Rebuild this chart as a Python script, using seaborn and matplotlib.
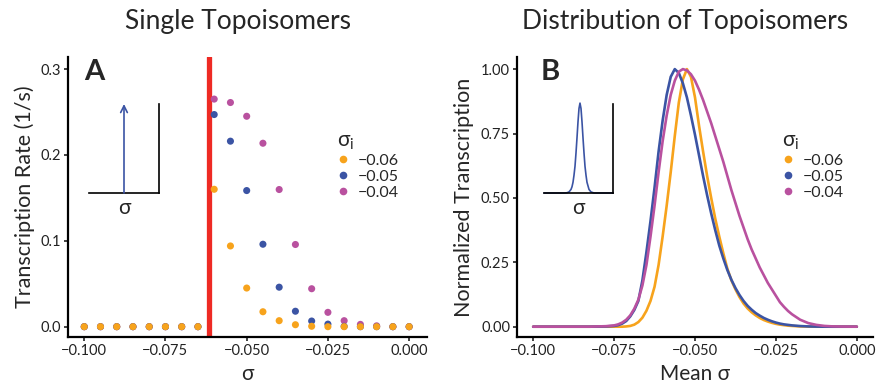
import numpy as np
import pandas as pd
import matplotlib
matplotlib.use("Agg")
import matplotlib.pyplot as plt
import seaborn as sns
from matplotlib.lines import Line2D

# --------------------------------------------------------------
# data
# --------------------------------------------------------------

sigma_levels = ["−0.06", "−0.05", "−0.04"]
colors = {"−0.06": "#F7A31C", "−0.05": "#3B54A4", "−0.04": "#B9519F"}

# panel A: single topoisomers
sigma_pts = [-0.1, -0.095, -0.09, -0.085, -0.08, -0.075, -0.07, -0.065,
             -0.06, -0.055, -0.05, -0.045, -0.04, -0.035, -0.03, -0.025,
             -0.02, -0.015, -0.01, -0.005, 0.0]
rate_06 = [0, 0, 0, 0, 0, 0, 0, 0,
           0.160, 0.094, 0.045, 0.0174, 0.007, 0.0023, 0.0005, 0,
           0, 0, 0, 0, 0]
rate_05 = [0, 0, 0, 0, 0, 0, 0, 0,
           0.247, 0.216, 0.1585, 0.096, 0.046, 0.018, 0.0066, 0.003,
           0.0004, 0, 0, 0, 0]
rate_04 = [0, 0, 0, 0, 0, 0, 0, 0,
           0.265, 0.261, 0.245, 0.2136, 0.1597, 0.0957, 0.0442, 0.0167,
           0.007, 0.0027, 0.001, 0, 0]
threshold = -0.0615

# panel B: distribution of topoisomers
mean_sigma = [-0.1, -0.0975, -0.095, -0.0925, -0.09, -0.0875, -0.085, -0.0825,
              -0.08, -0.0775, -0.075, -0.07375, -0.0725, -0.07125, -0.07,
              -0.06875, -0.0675, -0.06625, -0.065, -0.06375, -0.0625, -0.06125,
              -0.06, -0.05875, -0.0575, -0.05625, -0.055, -0.05375, -0.0525,
              -0.05125, -0.05, -0.04875, -0.0475, -0.04625, -0.045, -0.04375,
              -0.0425, -0.04125, -0.04, -0.03875, -0.0375, -0.03625, -0.035,
              -0.03375, -0.0325, -0.03125, -0.03, -0.02875, -0.0275, -0.02625,
              -0.025, -0.02375, -0.0225, -0.02125, -0.02, -0.0175, -0.015,
              -0.0125, -0.01, -0.0075, -0.005, -0.0025, 0.0]
norm_06 = [0, 0, 0, 0, 0, 0, 0, 0, 0, 0,
           0, 0, 0, 0.001, 0.003, 0.008, 0.018, 0.035, 0.062, 0.10,
           0.155, 0.24, 0.35, 0.47, 0.60, 0.74, 0.87, 0.96, 1.0, 0.97,
           0.89, 0.78, 0.68, 0.585, 0.50, 0.42, 0.35, 0.285, 0.225, 0.18,
           0.145, 0.115, 0.09, 0.071, 0.056, 0.044, 0.034, 0.026, 0.02, 0.015,
           0.011, 0.008, 0.006, 0.004, 0.003, 0.001, 0.0004, 0, 0, 0,
           0, 0, 0]
norm_05 = [0, 0, 0, 0, 0, 0, 0, 0, 0.0005, 0.001,
           0.003, 0.006, 0.012, 0.022, 0.04, 0.065, 0.10, 0.18, 0.29, 0.41,
           0.54, 0.68, 0.80, 0.90, 0.97, 1.0, 0.985, 0.945, 0.89, 0.82,
           0.745, 0.665, 0.585, 0.51, 0.44, 0.375, 0.315, 0.265, 0.22, 0.182,
           0.15, 0.123, 0.10, 0.081, 0.066, 0.053, 0.043, 0.034, 0.027, 0.021,
           0.016, 0.012, 0.009, 0.007, 0.005, 0.0025, 0.001, 0.0004, 0.0001, 0,
           0, 0, 0]
norm_04 = [0, 0, 0, 0, 0, 0, 0, 0, 0.001, 0.002,
           0.005, 0.009, 0.016, 0.027, 0.044, 0.07, 0.105, 0.16, 0.24, 0.35,
           0.47, 0.60, 0.72, 0.82, 0.90, 0.955, 0.99, 1.0, 0.995, 0.98,
           0.955, 0.92, 0.88, 0.835, 0.79, 0.74, 0.69, 0.64, 0.585, 0.53,
           0.48, 0.43, 0.385, 0.34, 0.30, 0.265, 0.23, 0.20, 0.17, 0.145,
           0.12, 0.095, 0.077, 0.061, 0.048, 0.027, 0.014, 0.007, 0.003, 0.0012,
           0.0005, 0.0002, 0]

# inset sketch in panel B (single narrow peak)
inset_x = [0, 20, 23, 25, 27, 28, 29, 30, 31, 32, 33, 34, 35,
           36, 37, 38, 39, 40, 41, 42, 43, 45, 47, 50, 69]
inset_y = [0, 0, 0.003, 0.012, 0.04, 0.07, 0.12, 0.2, 0.3, 0.45, 0.62, 0.8, 0.95,
           1.01, 0.95, 0.8, 0.62, 0.45, 0.3, 0.2, 0.12, 0.04, 0.012, 0, 0]

x_ticks = [-0.1, -0.075, -0.05, -0.025, 0.0]
x_labels = ["−0.100", "−0.075", "−0.050", "−0.025", "0.000"]
yA_ticks = [0.0, 0.1, 0.2, 0.3]
yA_labels = ["0.0", "0.1", "0.2", "0.3"]
yB_ticks = [0.0, 0.25, 0.5, 0.75, 1.0]
yB_labels = ["0.00", "0.25", "0.50", "0.75", "1.00"]

# --------------------------------------------------------------
# long tables for seaborn
# --------------------------------------------------------------

# orange last so it lands on top
dfA = pd.concat([
    pd.DataFrame({"sigma": sigma_pts, "rate": rate_04, "si": "−0.04"}),
    pd.DataFrame({"sigma": sigma_pts, "rate": rate_05, "si": "−0.05"}),
    pd.DataFrame({"sigma": sigma_pts, "rate": rate_06, "si": "−0.06"}),
], ignore_index=True)

dfB = pd.concat([
    pd.DataFrame({"sigma": mean_sigma, "norm": norm_06, "si": "−0.06"}),
    pd.DataFrame({"sigma": mean_sigma, "norm": norm_05, "si": "−0.05"}),
    pd.DataFrame({"sigma": mean_sigma, "norm": norm_04, "si": "−0.04"}),
], ignore_index=True)

# --------------------------------------------------------------
# plot
# --------------------------------------------------------------

sns.set_style("white")
plt.rcParams["font.family"] = ["Lato", "DejaVu Sans"]
plt.rcParams["axes.unicode_minus"] = True

W, H = 877, 388
fig = plt.figure(figsize=(W / 100, H / 100), dpi=100)

def px_axes(x0, y0, x1, y1):
    return fig.add_axes([x0 / W, 1 - y1 / H, (x1 - x0) / W, (y1 - y0) / H])

axA = px_axes(68, 57, 427, 337)
axB = px_axes(517, 57, 873, 337)

axA.axvline(threshold, color="#EE2A24", lw=3.8, zorder=1)
sns.scatterplot(data=dfA, x="sigma", y="rate", hue="si", palette=colors,
                s=26, linewidth=0, legend=False, ax=axA, zorder=3)

sns.lineplot(data=dfB, x="sigma", y="norm", hue="si", palette=colors,
             hue_order=["−0.06", "−0.05", "−0.04"], lw=1.9, legend=False,
             ax=axB, sort=False)

axA.set_xlim(-0.105, 0.0055)
axA.set_ylim(-0.012, 0.314)
axB.set_xlim(-0.105, 0.005)
axB.set_ylim(-0.04, 1.047)

for ax, yt, yl in [(axA, yA_ticks, yA_labels), (axB, yB_ticks, yB_labels)]:
    ax.set_xticks(x_ticks)
    ax.set_xticklabels(x_labels)
    ax.set_yticks(yt)
    ax.set_yticklabels(yl)
    for side in ["top", "right"]:
        ax.spines[side].set_visible(False)
    for side in ["left", "bottom"]:
        ax.spines[side].set_linewidth(1.6)
        ax.spines[side].set_color("black")
    ax.tick_params(axis="both", direction="out", length=3, width=1.3,
                   color="#333333", labelsize=10.5, labelcolor="#222222", pad=2,
                   bottom=True, left=True)

axA.set_xlabel("σ", fontsize=15, labelpad=4)
axA.set_ylabel("Transcription Rate (1/s)", fontsize=15.5, labelpad=4)
axB.set_xlabel("Mean σ", fontsize=15, labelpad=4)
axB.set_ylabel("Normalized Transcription", fontsize=15.5, labelpad=5)

fig.text(238 / W, 1 - 22 / H, "Single Topoisomers", fontsize=19, ha="center", va="center")
fig.text(685 / W, 1 - 22 / H, "Distribution of Topoisomers", fontsize=19, ha="center", va="center")
fig.text(84 / W, 1 - 72 / H, "A", fontsize=21, fontweight="bold", ha="left", va="center")
fig.text(541 / W, 1 - 72 / H, "B", fontsize=21, fontweight="bold", ha="left", va="center")

# legends
handles = [Line2D([], [], marker="o", ls="", ms=5.5, mfc=colors[k], mec="none")
           for k in sigma_levels]
for ax, (lx, ly) in [(axA, (329, 122)), (axB, (774, 122))]:
    leg = ax.legend(handles, sigma_levels, title="σ$_\\mathregular{i}$",
                    loc="upper left", bbox_to_anchor=(lx / W, 1 - ly / H),
                    bbox_transform=fig.transFigure, frameon=False,
                    fontsize=11.5, title_fontsize=15, handlelength=0.8,
                    handletextpad=0.5, labelspacing=0.12, borderpad=0)
    leg._legend_box.align = "left"

# inset A: single sigma (arrow)
inA = px_axes(89, 104, 159, 193)
inA.set_xlim(0, 1)
inA.set_ylim(0, 1)
inA.annotate("", xy=(0.5, 1.0), xytext=(0.5, 0), annotation_clip=False,
             arrowprops=dict(arrowstyle="->", color="#3B54A4", lw=1.2,
                             shrinkA=0, shrinkB=0, mutation_scale=12))
inA.text(0.5, -0.06, "σ", fontsize=15, ha="center", va="top", transform=inA.transAxes)

# inset B: narrow distribution
inB = px_axes(544, 104, 613, 193)
inB.set_xlim(0, 69)
inB.set_ylim(0, 1)
sns.lineplot(x=inset_x, y=inset_y, color="#3B54A4", lw=1.2, ax=inB, sort=False)
inB.lines[0].set_clip_on(False)
inB.text(0.5, -0.06, "σ", fontsize=15, ha="center", va="top", transform=inB.transAxes)

for ax in [inA, inB]:
    ax.set_xticks([])
    ax.set_yticks([])
    ax.set_facecolor("none")
    for side in ["top", "left"]:
        ax.spines[side].set_visible(False)
    for side in ["bottom", "right"]:
        ax.spines[side].set_visible(True)
        ax.spines[side].set_linewidth(1.2)
        ax.spines[side].set_color("black")

fig.savefig("out.png", dpi=100)
